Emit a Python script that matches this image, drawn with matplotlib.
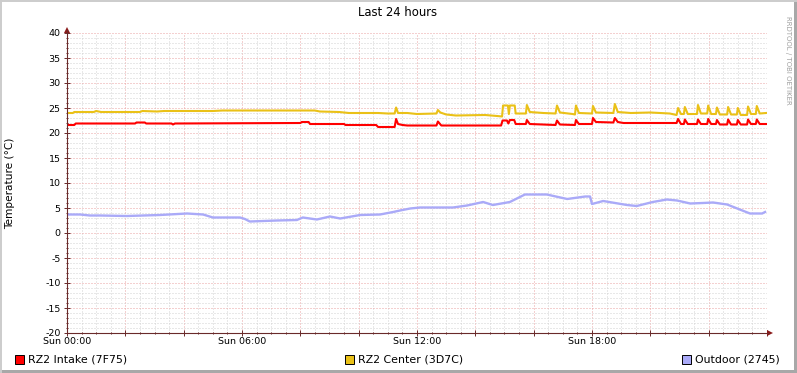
import matplotlib
matplotlib.use("Agg")
import matplotlib.pyplot as plt
from matplotlib.lines import Line2D
from matplotlib.patches import Rectangle, Polygon
from matplotlib.ticker import MultipleLocator

plt.rcParams["axes.unicode_minus"] = False

W, H = 797, 373

# minutes since Sun 00:00 and temperature (°C)
intake_min = [0, 3, 15, 18, 140, 143, 160, 163, 215, 218, 222, 480, 483, 497, 500, 570, 573,
              636, 640, 674, 677, 681, 690, 700, 760, 763, 770, 893, 896, 905, 908, 911, 920,
              923, 944, 946, 952, 1005, 1008, 1014, 1045, 1047, 1053, 1080, 1082, 1088, 1124,
              1127, 1133, 1145, 1254, 1257, 1263, 1269, 1271, 1277, 1296, 1298, 1304, 1317,
              1319, 1325, 1335, 1337, 1343, 1358, 1360, 1366, 1378, 1380, 1386, 1399, 1401,
              1407, 1417, 1419, 1425, 1438]
intake_val = [21.8, 21.6, 21.6, 21.9, 21.9, 22.1, 22.1, 21.9, 21.9, 21.7, 21.9, 22.0, 22.2,
              22.2, 21.8, 21.8, 21.6, 21.6, 21.2, 21.2, 22.8, 21.8, 21.6, 21.5, 21.5, 22.3,
              21.5, 21.5, 22.5, 22.5, 21.9, 22.6, 22.6, 21.8, 21.8, 22.6, 21.8, 21.6, 22.5,
              21.7, 21.6, 22.6, 21.8, 21.8, 23.0, 22.2, 22.1, 23.0, 22.2, 22.0, 22.0, 22.8,
              21.8, 21.8, 22.7, 21.8, 21.8, 22.7, 21.8, 21.8, 22.8, 21.8, 21.8, 22.6, 21.7,
              21.7, 22.7, 21.7, 21.7, 22.6, 21.7, 21.7, 22.7, 21.8, 21.8, 22.7, 21.8, 21.8]

center_min = [0, 12, 15, 55, 60, 70, 150, 155, 185, 200, 300, 320, 510, 520, 560, 580, 640,
              660, 674, 677, 681, 700, 720, 760, 763, 768, 780, 800, 860, 885, 895, 897, 907,
              909, 911, 921, 923, 944, 946, 952, 980, 1005, 1008, 1014, 1040, 1045, 1047,
              1053, 1080, 1082, 1088, 1124, 1127, 1133, 1160, 1200, 1240, 1254, 1257, 1263,
              1269, 1271, 1277, 1296, 1298, 1304, 1317, 1319, 1325, 1335, 1337, 1343, 1358,
              1360, 1366, 1378, 1380, 1386, 1399, 1401, 1407, 1417, 1419, 1425, 1438]
center_val = [24.0, 24.0, 24.2, 24.2, 24.4, 24.2, 24.2, 24.4, 24.3, 24.4, 24.4, 24.5, 24.5,
              24.3, 24.2, 24.0, 24.0, 23.9, 23.9, 25.1, 24.0, 24.0, 23.8, 23.9, 24.6, 24.1,
              23.7, 23.5, 23.6, 23.4, 23.3, 25.5, 25.5, 23.8, 25.5, 25.5, 23.9, 23.9, 25.6,
              24.2, 24.0, 23.9, 25.5, 24.1, 23.8, 23.7, 25.5, 24.0, 23.9, 25.4, 24.1, 24.0,
              25.8, 24.2, 24.0, 24.1, 23.9, 23.6, 25.0, 23.8, 23.8, 25.2, 23.8, 23.8, 25.6,
              23.9, 23.9, 25.5, 23.8, 23.8, 25.1, 23.7, 23.7, 25.2, 23.7, 23.7, 25.0, 23.6,
              23.6, 25.3, 23.8, 23.8, 25.4, 23.9, 24.0]

outdoor_min = [0, 27, 47, 68, 123, 191, 247, 280, 300, 356, 366, 376, 432, 473, 485, 514,
               541, 562, 603, 644, 671, 685, 706, 726, 794, 823, 856, 876, 911, 942, 987,
               1029, 1066, 1076, 1080, 1103, 1152, 1172, 1205, 1234, 1255, 1282, 1308, 1329,
               1358, 1384, 1405, 1430, 1436]
outdoor_val = [3.7, 3.7, 3.5, 3.5, 3.4, 3.6, 3.9, 3.7, 3.1, 3.1, 2.8, 2.3, 2.5, 2.6, 3.1, 2.7,
               3.3, 2.9, 3.6, 3.7, 4.2, 4.5, 4.9, 5.1, 5.1, 5.5, 6.2, 5.6, 6.2, 7.7, 7.7, 6.8,
               7.3, 7.3, 5.8, 6.4, 5.6, 5.4, 6.2, 6.7, 6.5, 5.9, 6.0, 6.1, 5.7, 4.7, 3.9, 3.9,
               4.2]

x_tick_pos = [0, 360, 720, 1080]
x_tick_labels = ["Sun 00:00", "Sun 06:00", "Sun 12:00", "Sun 18:00"]
legend_labels = ["RZ2 Intake (7F75)", "RZ2 Center (3D7C)", "Outdoor (2745)"]
colors = ["#FF0000", "#EAC117", "#AAAAF8"]

AXC = "#6a2a2a"

def fx(x):
  return x / W

def fy(y):
  return (H - y) / H

fig = plt.figure(figsize=(W / 100, H / 100), dpi=100)
fig.patch.set_facecolor("white")

ax = fig.add_axes([fx(67), fy(333), 700 / W, 300 / H])
ax.set_facecolor("white")

ax.plot(intake_min, intake_val, color=colors[0], lw=1.5, zorder=4)
ax.plot(center_min, center_val, color=colors[1], lw=1.5, zorder=3)
ax.plot(outdoor_min, outdoor_val, color=colors[2], lw=1.7, zorder=3)

ax.set_xlim(0, 1440)
ax.set_ylim(-20, 40)

ax.xaxis.set_major_locator(MultipleLocator(120))
ax.xaxis.set_minor_locator(MultipleLocator(30))
ax.set_xticklabels([])
ax.yaxis.set_major_locator(MultipleLocator(5))
ax.yaxis.set_minor_locator(MultipleLocator(1))

ax.grid(which="minor", color="#D2D2D2", lw=0.72, linestyle=(0, (1, 2)), zorder=1)
ax.grid(which="major", color="#EBA3A3", lw=0.72, linestyle=(0, (1, 2)), zorder=2)
ax.set_axisbelow(True)

for s in ax.spines.values():
  s.set_visible(False)

ax.tick_params(which="both", direction="inout", color=AXC, width=0.7)
ax.tick_params(which="major", length=4)
ax.tick_params(which="minor", length=2)
ax.tick_params(axis="y", labelsize=6.8, pad=2.5, labelcolor="black")
ax.tick_params(axis="x", bottom=True, labelbottom=False)

# time labels only every 6 hours
for pos, lab in zip(x_tick_pos, x_tick_labels):
  ax.text(pos, -20.8, lab, ha="center", va="top", fontsize=6.8, clip_on=False)

# axis lines with arrowheads
fig.add_artist(Line2D([fx(67), fx(768)], [fy(333), fy(333)], color=AXC, lw=0.8))
fig.add_artist(Line2D([fx(67), fx(67)], [fy(333), fy(30)], color=AXC, lw=0.8))
fig.add_artist(Polygon([[fx(767), fy(330)], [fx(773), fy(333)], [fx(767), fy(336)]],
                       closed=True, color="#8B1A1A", lw=0))
fig.add_artist(Polygon([[fx(64), fy(33)], [fx(67), fy(27)], [fx(70), fy(33)]],
                       closed=True, color="#8B1A1A", lw=0))

fig.text(fx(398), fy(13), "Last 24 hours", ha="center", va="center", fontsize=8.4)
fig.text(fx(10), fy(183), "Temperature (°C)", rotation=90, ha="center", va="center",
         fontsize=7.6)
fig.text(fx(788), fy(60), "RRDTOOL / TOBI OETIKER", rotation=270, ha="center",
         va="center", fontsize=5.0, color="#A0A0A0")

# legend
legend_x = [15, 345, 682]
for lx, lab, c in zip(legend_x, legend_labels, colors):
  fig.add_artist(Rectangle((fx(lx), fy(364)), 9 / W, 9 / H, facecolor=c,
                           edgecolor="black", lw=0.7))
  fig.text(fx(lx + 13), fy(359), lab, ha="left", va="center", fontsize=7.9)

# 3d frame
fig.add_artist(Line2D([0, 1], [fy(0.5), fy(0.5)], color="#CCCCCC", lw=1.4))
fig.add_artist(Line2D([fx(0.5), fx(0.5)], [0, 1], color="#CCCCCC", lw=1.4))
fig.add_artist(Rectangle((fx(794), 0), 3 / W, 1, facecolor="#A8A8A8", lw=0))
fig.add_artist(Rectangle((0, 0), 1, 3 / H, facecolor="#A8A8A8", lw=0))

fig.savefig("out.png", dpi=100)
